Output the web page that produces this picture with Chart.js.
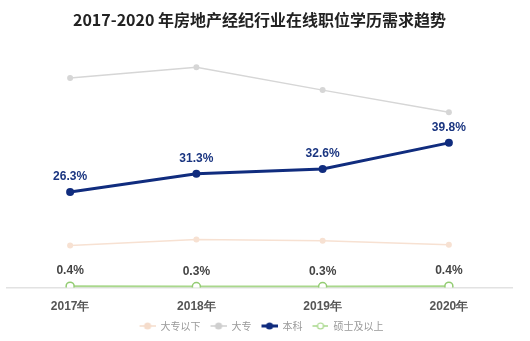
<!DOCTYPE html>
<html>
<head>
<meta charset="utf-8">
<script src="https://cdn.jsdelivr.net/npm/chart.js@4/dist/chart.umd.min.js"></script>
<style>
  html, body { margin: 0; padding: 0; background: #fff; }
  #wrap { width: 530px; height: 341px; }
</style>
</head>
<body>
<div id="wrap"><canvas id="c"></canvas></div>
<script>
const years = ['2017年', '2018年', '2019年', '2020年'];
const belowJunior = [11.6, 13.2, 12.9, 11.8];   // 大专以下
const junior = [57.6, 60.6, 54.3, 48.2];        // 大专
const bachelor = [26.3, 31.3, 32.6, 39.8];      // 本科
const master = [0.4, 0.3, 0.3, 0.4];            // 硕士及以上

const CJK = '"Noto Sans CJK SC", "Noto Sans", sans-serif';
const NUM = '"Liberation Sans", Arial, sans-serif';

// legend icon: short line with a dot in the middle, small transparent gap on the left
function legendIcon(color, fill, lw) {
    const cv = document.createElement('canvas');
    cv.width = 20; cv.height = 10;
    const g = cv.getContext('2d');
    g.strokeStyle = color;
    g.lineWidth = lw;
    g.beginPath(); g.moveTo(4, 5); g.lineTo(20, 5); g.stroke();
    g.beginPath(); g.arc(12, 5, 3, 0, Math.PI * 2);
    g.fillStyle = fill; g.fill();
    g.lineWidth = 1.2; g.stroke();
    return cv;
}

// value labels above points for some series
const valueLabels = {
    id: 'valueLabels',
    afterDatasetsDraw(chart) {
        const ctx = chart.ctx;
        chart.data.datasets.forEach((ds, i) => {
            if (!ds.labelColor) return;
            const meta = chart.getDatasetMeta(i);
            ctx.save();
            ctx.font = 'bold 12px ' + NUM;
            ctx.fillStyle = ds.labelColor;
            ctx.textAlign = 'center';
            ctx.textBaseline = 'bottom';
            meta.data.forEach((pt, j) => {
                ctx.fillText(ds.data[j].toFixed(1) + '%', pt.x, pt.y - 9);
            });
            ctx.restore();
        });
    }
};

new Chart(document.getElementById('c'), {
    type: 'line',
    data: {
        labels: years,
        datasets: [
            {
                label: '大专以下', data: belowJunior,
                borderColor: '#f7e1d2', backgroundColor: '#f7e1d2',
                borderWidth: 1.5, pointRadius: 3, pointBorderWidth: 0,
                icon: legendIcon('#f5dccb', '#f5dccb', 1.5)
            },
            {
                label: '大专', data: junior,
                borderColor: '#d6d6d6', backgroundColor: '#d6d6d6',
                borderWidth: 1.5, pointRadius: 3, pointBorderWidth: 0,
                icon: legendIcon('#cfcfcf', '#cfcfcf', 1.5)
            },
            {
                label: '本科', data: bachelor,
                borderColor: '#102c7e', backgroundColor: '#102c7e',
                borderWidth: 3, pointRadius: 4, pointBorderWidth: 0,
                labelColor: '#1a3580',
                icon: legendIcon('#102c7e', '#102c7e', 3)
            },
            {
                label: '硕士及以上', data: master,
                borderColor: '#a9d88c', backgroundColor: '#ffffff',
                borderWidth: 2, pointRadius: 4, pointBorderWidth: 1.5,
                pointBorderColor: '#93cc72',
                labelColor: '#444444',
                icon: legendIcon('#a9d88c', '#ffffff', 1.5)
            }
        ]
    },
    options: {
        responsive: true,
        maintainAspectRatio: false,
        animation: false,
        layout: { padding: { left: 7, right: 18, top: 0, bottom: 0 } },
        elements: { line: { tension: 0 } },
        scales: {
            x: {
                offset: true,
                grid: { display: false, drawTicks: false },
                border: { display: true, color: '#e2e2e2', width: 1.5 },
                ticks: { color: '#555', font: { family: NUM, size: 12, weight: 'bold' }, padding: 12 },
                afterFit(scale) { scale.height -= 11; }
            },
            y: {
                display: false,
                min: 0, max: 68.3
            }
        },
        plugins: {
            title: {
                display: true,
                text: '2017-2020 年房地产经纪行业在线职位学历需求趋势',
                color: '#222',
                font: { family: CJK, size: 16, weight: 'bold' },
                padding: { top: 10, bottom: 10 }
            },
            legend: {
                position: 'bottom',
                labels: {
                    usePointStyle: true,
                    pointStyleWidth: 20,
                    boxHeight: 10,
                    padding: 6,
                    color: '#999',
                    font: { family: CJK, size: 10 },
                    generateLabels(chart) {
                        return chart.data.datasets.map((ds, i) => ({
                            text: ds.label,
                            pointStyle: ds.icon,
                            fontColor: '#999',
                            hidden: !chart.isDatasetVisible(i),
                            datasetIndex: i,
                            lineWidth: 0
                        }));
                    }
                }
            },
            tooltip: { enabled: false }
        }
    },
    plugins: [valueLabels]
});
</script>
</body>
</html>
